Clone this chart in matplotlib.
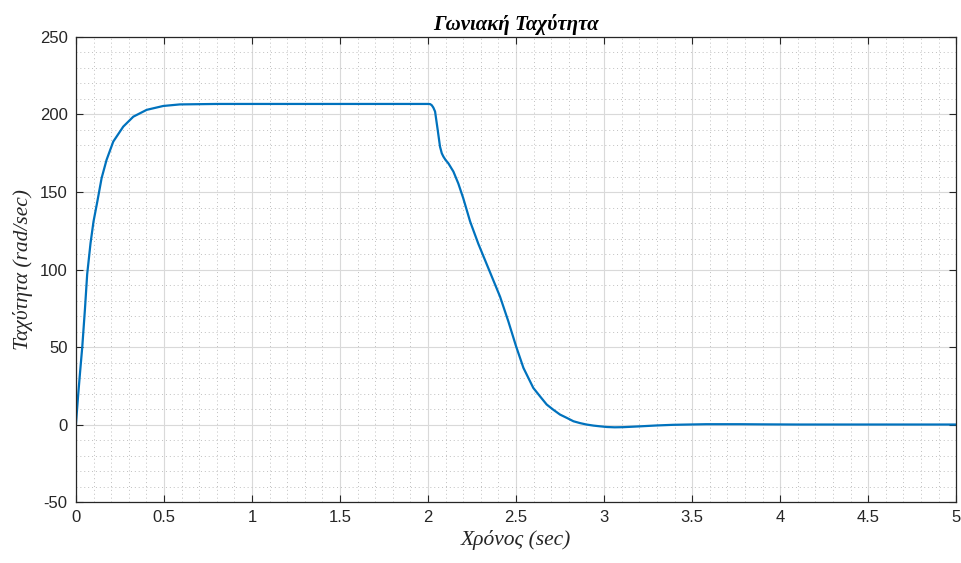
import numpy as np
import matplotlib.pyplot as plt
from matplotlib.ticker import MultipleLocator

plt.rcParams['axes.unicode_minus'] = False

# values
time_s = [0.0, 0.012, 0.023, 0.036, 0.051, 0.064, 0.083, 0.1, 0.121, 0.146,
          0.174, 0.212, 0.269, 0.326, 0.402, 0.496, 0.59, 0.8, 1.0, 1.5,
          2.0, 2.012, 2.021, 2.03, 2.04, 2.055, 2.068, 2.078, 2.087, 2.1,
          2.115, 2.144, 2.172, 2.2, 2.239, 2.286, 2.333, 2.362, 2.409, 2.456,
          2.5, 2.542, 2.598, 2.636, 2.674, 2.712, 2.75, 2.788, 2.826, 2.864,
          2.9, 2.94, 2.98, 3.016, 3.06, 3.11, 3.2, 3.3, 3.39, 3.48,
          3.58, 3.77, 3.9, 4.1, 4.5, 5.0]
speed = [0.0, 18.0, 33.0, 50.0, 74.0, 97.0, 117.0, 131.0, 143.5, 159.0,
         170.7, 182.5, 192.2, 198.6, 203.0, 205.5, 206.5, 206.8, 206.8, 206.8,
         206.8, 206.7, 206.0, 204.5, 201.9, 190.0, 179.3, 175.0, 172.9, 170.6,
         168.6, 163.2, 155.5, 146.0, 131.0, 116.5, 103.5, 95.5, 82.5, 66.6,
         50.5, 36.5, 23.6, 18.2, 12.9, 9.5, 6.4, 4.3, 2.1, 0.9,
         0.0, -0.7, -1.2, -1.6, -1.8, -1.7, -1.2, -0.6, -0.2, 0.0,
         0.2, 0.2, 0.1, 0.0, 0.0, 0.0]

fig = plt.figure(figsize=(9.61, 5.63), dpi=100)
ax = fig.add_axes([0.079, 0.1083, 0.916, 0.826])

ax.plot(time_s, speed, color='#0072BD', linewidth=1.6)

ax.set_xlim(0, 5)
ax.set_ylim(-50, 250)
ax.xaxis.set_major_locator(MultipleLocator(0.5))
ax.xaxis.set_minor_locator(MultipleLocator(0.1))
ax.yaxis.set_major_locator(MultipleLocator(50))
ax.yaxis.set_minor_locator(MultipleLocator(10))
ax.set_xticks(np.arange(0, 5.01, 0.5))
ax.set_xticklabels(['0', '0.5', '1', '1.5', '2', '2.5', '3', '3.5', '4', '4.5', '5'])

ax.grid(which='major', color='#d9d9d9', linewidth=0.8)
ax.grid(which='minor', color='#bfbfbf', linestyle=(0, (1, 3)), linewidth=0.7)
ax.set_axisbelow(True)

for s in ax.spines.values():
    s.set_color('#262626')
    s.set_linewidth(0.9)
ax.tick_params(which='both', direction='in', top=True, right=True, colors='#262626')
ax.tick_params(which='major', length=5, labelsize=12, pad=6)
ax.tick_params(which='minor', length=0)
for lbl in ax.get_xticklabels() + ax.get_yticklabels():
    lbl.set_family(['Liberation Sans Narrow', 'Liberation Sans', 'DejaVu Sans'])

serif = ['Liberation Serif', 'DejaVu Serif']
ax.set_title('Γωνιακή Ταχύτητα', family=serif, style='italic', weight='bold',
             fontsize=15, pad=5)
ax.set_xlabel('Χρόνος (sec)', family=serif, style='italic', fontsize=15.5,
              color='#262626', labelpad=3)
ax.set_ylabel('Ταχύτητα (rad/sec)', family=serif, style='italic', fontsize=15.5,
              color='#262626', labelpad=5)

plt.savefig('out.png', dpi=100)
plt.close()
